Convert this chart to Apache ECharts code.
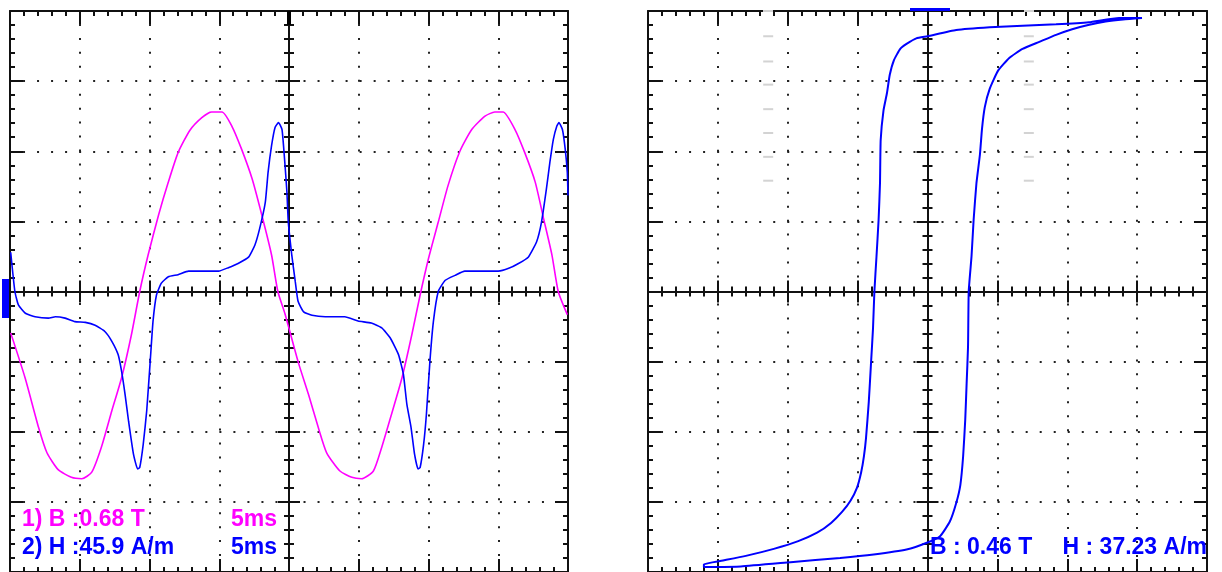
<!DOCTYPE html>
<html lang="en">
  <head>
    <meta charset="UTF-8" />
    <title>B-H scope</title>
    <script src="https://cdn.jsdelivr.net/npm/echarts@6/dist/echarts.min.js"></script>
  </head>
  <body style="margin: 0; background: #fff">
    <div id="main" style="width: 1222px; height: 572px"></div>
    <script type="text/javascript">
      // left screen: time in ms (5 ms/div), values in divisions
      const bTime = [0.05, 1.08, 2.05, 2.65, 3.45, 4.4, 5.15, 5.85, 6.55, 7.3, 8.0, 8.7, 9.3, 9.9, 10.65, 11.35, 12.05, 12.9, 13.75, 14.45, 15.2, 15.9, 16.6, 17.35, 18.05, 18.75, 19.2, 19.7,
        20.65, 21.4, 22.1, 22.7, 23.65, 24.5, 25.2, 26.05, 26.65, 27.35, 28.1, 28.8, 29.4, 30.0, 30.7, 31.4, 32.25, 33.1, 34.05, 34.75, 35.35, 36.2, 36.9, 37.65, 38.25, 38.85, 39.3, 39.95];
      const bValues = [-0.59, -1.23, -1.94, -2.3, -2.54, -2.65, -2.67, -2.58, -2.22, -1.7, -1.23, -0.62, 0.0, 0.52, 1.09, 1.56, 1.98, 2.3, 2.48, 2.56, 2.56, 2.36, 2.03, 1.61, 1.09, 0.52, 0.0, -0.31,
        -1.0, -1.47, -1.94, -2.3, -2.56, -2.65, -2.67, -2.56, -2.22, -1.75, -1.23, -0.62, -0.05, 0.47, 0.99, 1.51, 2.0, 2.31, 2.5, 2.56, 2.56, 2.31, 1.98, 1.56, 1.04, 0.52, 0.0, -0.33];

      const hTime = [0.05, 0.35, 0.6, 1.1, 1.8, 2.75, 3.25, 3.95, 4.65, 5.4, 6.1, 6.8, 7.3, 7.75, 8.0, 8.25, 8.5, 8.85, 9.15, 9.3, 9.55, 9.8, 10.05, 10.25, 10.5, 10.85, 11.35, 12.05, 12.8, 14.0, 14.95, 15.65, 16.35, 17.1, 17.55, 17.9, 18.3, 18.5, 18.75, 19.0, 19.25, 19.5, 19.7, 19.85, 19.95,
        20.2, 20.45, 20.65, 21.05, 21.65, 22.6, 24.0, 24.95, 25.9, 26.65, 27.25, 27.85, 28.2, 28.45, 28.75, 29.0, 29.25, 29.4, 29.65, 29.85, 30.1, 30.35, 30.7, 31.2, 31.9, 32.6, 34.05, 35.0, 35.75, 36.45, 37.15, 37.75, 38.1, 38.45, 38.7, 38.95, 39.2, 39.35, 39.6, 39.8, 39.95, 40.0];
      const hValues = [0.56, 0.0, -0.19, -0.31, -0.36, -0.38, -0.36, -0.38, -0.43, -0.44, -0.48, -0.57, -0.71, -0.9, -1.14, -1.47, -1.85, -2.32, -2.53, -2.51, -2.18, -1.7, -1.0, -0.43, -0.05, 0.12, 0.21, 0.24, 0.29, 0.29, 0.29, 0.34, 0.4, 0.49, 0.66, 0.9, 1.27, 1.7, 2.08, 2.34, 2.41, 2.31, 1.84, 1.42, 0.99,
        0.52, 0.14, -0.14, -0.29, -0.34, -0.36, -0.36, -0.42, -0.45, -0.52, -0.66, -0.9, -1.18, -1.61, -1.94, -2.32, -2.53, -2.51, -2.18, -1.75, -1.0, -0.43, 0.0, 0.16, 0.23, 0.29, 0.29, 0.29, 0.33, 0.4, 0.49, 0.71, 0.99, 1.46, 1.84, 2.17, 2.36, 2.41, 2.31, 2.03, 1.7, 1.37];

      // right screen: B-H loop, divisions
      const loopDownH = [3.07, 2.74, 2.31, 1.84, 1.36, 0.89, 0.41, 0, -0.16, -0.3, -0.39, -0.48, -0.54, -0.58, -0.63, -0.67, -0.68, -0.7, -0.73, -0.76, -0.78, -0.81, -0.84, -0.88, -0.91, -0.95, -1.01, -1.1, -1.22, -1.38, -1.58, -1.85, -2.2, -2.6, -2.95, -3.2];
      const loopDownB = [3.9, 3.9, 3.84, 3.81, 3.79, 3.77, 3.73, 3.64, 3.61, 3.53, 3.46, 3.3, 3.09, 2.83, 2.58, 2.16, 1.54, 1.02, 0.5, 0, -0.53, -1.05, -1.57, -2.09, -2.35, -2.58, -2.8, -2.98, -3.14, -3.3, -3.44, -3.56, -3.67, -3.77, -3.84, -3.89];
      const loopUpH = [-3.2, -2.67, -1.96, -1.25, -0.77, -0.3, 0, 0.18, 0.32, 0.41, 0.47, 0.51, 0.54, 0.56, 0.58, 0.59, 0.63, 0.66, 0.7, 0.75, 0.78, 0.82, 0.89, 1.01, 1.17, 1.36, 1.6, 1.84, 2.07, 2.3, 2.55, 2.8, 3.07];
      const loopUpB = [-3.93, -3.92, -3.86, -3.8, -3.75, -3.68, -3.58, -3.49, -3.28, -3.02, -2.76, -2.35, -1.83, -1.31, -0.79, 0, 0.5, 1.02, 1.54, 1.95, 2.32, 2.63, 2.89, 3.15, 3.33, 3.46, 3.56, 3.66, 3.74, 3.8, 3.85, 3.88, 3.9];

      // grey cursor dashes on the right screen (H, B in divisions)
      const cursorH = [-2.28, 1.45];
      const cursorB = [3.64, 3.28, 2.95, 2.6, 2.26, 1.92, 1.58];

      const zip = (xs, ys) => xs.map((x, i) => [x, ys[i]]);

      const panels = [
        { left: 10, top: 11, width: 558, height: 561, xMin: 0, xMax: 40, xStep: 5 },
        { left: 648, top: 11, width: 559, height: 561, xMin: -4, xMax: 4, xStep: 1 },
      ];
      const ink = "#111";

      function axis(gi, min, max, step, position, offset, inside, major, withSplit, size) {
        const minor = (size / ((max - min) / step)) / 5;
        return {
          type: "value", gridIndex: gi, min: min, max: max, interval: step,
          position: position, offset: offset,
          axisLabel: { show: false },
          axisLine: { show: true, onZero: false, lineStyle: { color: ink, width: 2 } },
          axisTick: { show: true, inside: inside, length: major, lineStyle: { color: ink, width: 2 } },
          minorTick: { show: true, splitNumber: 5, length: 5, lineStyle: { color: ink, width: 2 } },
          splitLine: {
            show: withSplit,
            lineStyle: { color: "#222", width: 2, type: [2, minor - 2], dashOffset: 1 },
          },
        };
      }

      const xAxis = [], yAxis = [];
      panels.forEach((p, gi) => {
        xAxis.push(axis(gi, p.xMin, p.xMax, p.xStep, "bottom", 0, true, 13, true, p.width));
        xAxis.push(axis(gi, p.xMin, p.xMax, p.xStep, "top", 0, true, 13, false, p.width));
        xAxis.push(axis(gi, p.xMin, p.xMax, p.xStep, "bottom", -p.height / 2, true, 11, false, p.width));
        xAxis.push(axis(gi, p.xMin, p.xMax, p.xStep, "bottom", -p.height / 2, false, 11, false, p.width));
        yAxis.push(axis(gi, -4, 4, 1, "left", 0, true, 13, true, p.height));
        yAxis.push(axis(gi, -4, 4, 1, "right", 0, true, 13, false, p.height));
        yAxis.push(axis(gi, -4, 4, 1, "left", -p.width / 2, true, 11, false, p.height));
        yAxis.push(axis(gi, -4, 4, 1, "left", -p.width / 2, false, 11, false, p.height));
      });

      const cursorData = [];
      cursorH.forEach((h) => cursorB.forEach((b) => cursorData.push([h, b])));

      const font = "bold 23px 'Liberation Sans', Arial, sans-serif";
      const txt = (x, y, s, color, align) => ({
        type: "text", x: x, y: y, z: 100,
        style: { text: s, fill: color, font: font, textAlign: align || "left", textVerticalAlign: "bottom" },
      });

      const options = {
        animation: false,
        grid: panels.map((p) => ({ left: p.left, top: p.top, width: p.width, height: p.height, show: false })),
        xAxis: xAxis,
        yAxis: yAxis,
        series: [
          {
            name: "B", type: "line", xAxisIndex: 0, yAxisIndex: 0, showSymbol: false, smooth: 0.2,
            data: zip(bTime, bValues), lineStyle: { color: "#ff00ff", width: 1.6 }, z: 5,
          },
          {
            name: "H", type: "line", xAxisIndex: 0, yAxisIndex: 0, showSymbol: false, smooth: 0.15,
            data: zip(hTime, hValues), lineStyle: { color: "#0000ff", width: 1.6 }, z: 6,
          },
          {
            name: "cursor", type: "scatter", xAxisIndex: 4, yAxisIndex: 4, symbol: "rect", symbolSize: [10, 2],
            data: cursorData, itemStyle: { color: "#c8c8c8" }, z: 3,
          },
          {
            name: "loop", type: "line", xAxisIndex: 4, yAxisIndex: 4, showSymbol: false, smooth: 0.15,
            data: zip(loopDownH, loopDownB).concat(zip(loopUpH, loopUpB)),
            lineStyle: { color: "#0000ff", width: 2 }, z: 5,
          },
        ],
        graphic: [
          // channel / trigger markers
          { type: "rect", shape: { x: 2, y: 279, width: 7, height: 39 }, style: { fill: "#0000ff" }, z: 50 },
          { type: "rect", shape: { x: 287, y: 11, width: 4, height: 14 }, style: { fill: "#000" }, z: 50 },
          { type: "rect", shape: { x: 910, y: 8, width: 40, height: 3 }, style: { fill: "#0000ff" }, z: 50 },
          { type: "rect", shape: { x: 763, y: 10, width: 10, height: 2 }, style: { fill: "#d0d0d0" }, z: 50 },
          { type: "rect", shape: { x: 1024, y: 10, width: 10, height: 2 }, style: { fill: "#d0d0d0" }, z: 50 },
          txt(22, 531, "1) B :0.68 T", "#ff00ff"),
          txt(277, 531, "5ms", "#ff00ff", "right"),
          txt(22, 559, "2) H :45.9 A/m", "#0000ff"),
          txt(277, 559, "5ms", "#0000ff", "right"),
          txt(930, 559, "B : 0.46 T", "#0000ff"),
          txt(1207, 559, "H : 37.23 A/m", "#0000ff", "right"),
        ],
      };

      let myChart = echarts.init(document.getElementById("main"));
      myChart.setOption(options);
    </script>
  </body>
</html>
